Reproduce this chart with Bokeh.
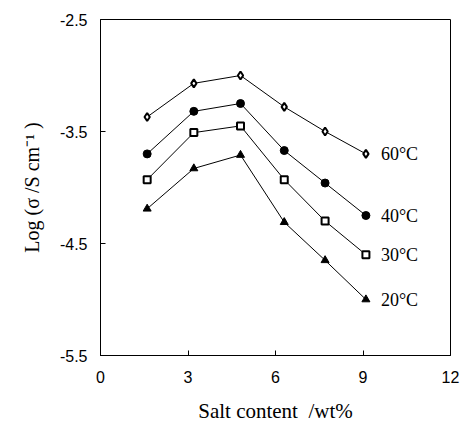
from bokeh.plotting import figure
from bokeh.models import Range1d, FixedTicker, ColumnDataSource
from bokeh.core.properties import value
from bokeh.embed import file_html
from bokeh.resources import INLINE

salt = [1.6, 3.2, 4.8, 6.3, 7.7, 9.1]
t60 = [-3.37, -3.07, -3.00, -3.28, -3.50, -3.70]
t40 = [-3.70, -3.32, -3.25, -3.67, -3.96, -4.25]
t30 = [-3.93, -3.51, -3.45, -3.93, -4.30, -4.60]
t20 = [-4.19, -3.83, -3.71, -4.31, -4.65, -5.00]
labels = ["60°C", "40°C", "30°C", "20°C"]
x_ticks = [0, 3, 6, 9, 12]
y_ticks = [-2.5, -3.5, -4.5, -5.5]
y_tick_labels = ["-2.5", "-3.5", "-4.5", "-5.5"]

p = figure(width=462, height=428, output_backend="svg", toolbar_location=None,
           x_range=Range1d(0, 12), y_range=Range1d(-5.5, -2.5),
           min_border_left=100, min_border_right=12, min_border_top=19, min_border_bottom=73)
p.background_fill_color = "white"
p.border_fill_color = "white"
p.grid.visible = False
p.outline_line_color = "black"
p.outline_line_width = 1

p.xaxis.ticker = FixedTicker(ticks=x_ticks)
p.yaxis.ticker = FixedTicker(ticks=y_ticks)
p.yaxis.major_label_overrides = dict(zip(y_ticks, y_tick_labels))
for ax in (p.xaxis, p.yaxis):
    ax.major_tick_in = 5
    ax.major_tick_out = 0
    ax.minor_tick_line_color = None
    ax.axis_line_color = "black"
    ax.major_tick_line_color = "black"
    ax.major_label_text_font = "Liberation Sans"
    ax.major_label_text_font_size = "16px"
    ax.major_label_text_color = "black"
    ax.axis_label_text_font = "Liberation Serif"
    ax.axis_label_text_font_style = "normal"
    ax.axis_label_text_color = "black"
p.xaxis.axis_label_text_font_size = "21px"
p.yaxis.axis_label_text_font_size = "20px"
p.xaxis.major_label_standoff = 15
p.yaxis.major_label_standoff = 13
p.xaxis.axis_label = "Salt content\u00a0\u00a0/wt%"
p.yaxis.axis_label = "Log (σ /S cm⁻¹\u00a0)"
p.xaxis.axis_label_standoff = 13
p.yaxis.axis_label_standoff = 14

series = [(t60, "diamond", "white", 8), (t40, "circle", "black", 8),
          (t30, "square", "white", 7), (t20, "triangle", "black", 8)]
for ys, marker, fill, size in series:
    p.line(salt, ys, line_color="black", line_width=1)
    p.scatter(salt, ys, marker=marker, size=size, fill_color=fill,
              line_color="black", line_width=2 if fill == "white" else 1)

src = ColumnDataSource(dict(x=[salt[-1]] * 4, y=[t60[-1], t40[-1], t30[-1], t20[-1]], t=labels))
p.text(x="x", y="y", text="t", source=src, x_offset=15, text_baseline="middle",
       text_align="left", text_font=value("Liberation Serif"), text_font_size="18px",
       text_color="black")

open("out.html", "w").write(file_html(p, INLINE))
